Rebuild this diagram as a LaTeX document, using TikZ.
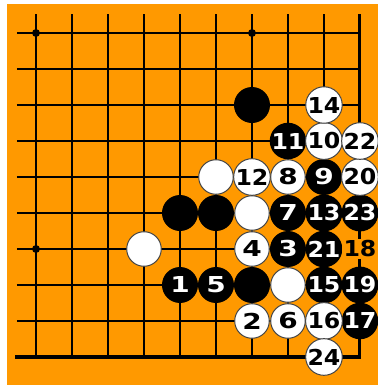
\documentclass[tikz,border=0pt]{standalone}
\usepackage{fontspec}
\usepackage{graphicx}
\newfontfamily\stonefont{DejaVu Sans}
\definecolor{boardorange}{RGB}{255,153,0}
\definecolor{stonegrey}{RGB}{70,70,70}
\newcommand{\movenum}[1]{\ifnum#1<10 \scalebox{1.3}[1.02]{#1}\else\scalebox{1.1}[1.02]{#1}\fi}
\tikzset{
  gridline/.style={line width=1.5pt, black},
  edgeline/.style={line width=2.4pt, black, line join=miter},
  numfont/.style={font=\stonefont\bfseries\fontsize{17}{17}\selectfont},
  bstone/.style={circle, fill=black, text=white, minimum size=1cm, inner sep=0pt, numfont},
  wstone/.style={circle, fill=white, draw=stonegrey, line width=0.8pt, text=black, minimum size=0.96cm, inner sep=0pt, numfont},
  movelabel/.style={fill=boardorange, inner sep=1pt, text=black, numfont}
}
\begin{document}
\begin{tikzpicture}
  \useasboundingbox (0,-0.778) rectangle (10.5,9.917);
  \fill[boardorange] (0.194,-0.778) rectangle (10.5,9.806);
  % grid
  \foreach \c in {1,...,9}
    \draw[gridline] (\c,0) -- (\c,9.53);
  \foreach \r in {1,...,9}
    \draw[gridline] (0.47,\r) -- (10,\r);
  \draw[edgeline] (0.42,0) -- (10,0) -- (10,9.53);
  % star points
  \foreach \c/\r in {1/9, 7/9, 1/3}
    \fill (\c,\r) circle (0.11);
  % stones without numbers
  \foreach \c/\r [count=\i] in {7/7, 5/4, 6/4, 7/2}
    \node[bstone] (b\i) at (\c,\r) {};
  \foreach \c/\r [count=\i] in {6/5, 7/4, 4/3, 8/2}
    \node[wstone] (w\i) at (\c,\r) {};
  % numbered moves
  \foreach \c/\r/\n in {5/2/1, 8/3/3, 6/2/5, 8/4/7, 9/5/9, 8/6/11, 9/4/13, 9/2/15, 10/1/17, 10/2/19, 9/3/21, 10/4/23}
    \node[bstone] (m\n) at (\c,\r) {\movenum{\n}};
  \foreach \c/\r/\n in {7/1/2, 7/3/4, 8/1/6, 8/5/8, 9/6/10, 7/5/12, 9/7/14, 9/1/16, 10/5/20, 10/6/22, 9/0/24}
    \node[wstone] (m\n) at (\c,\r) {\movenum{\n}};
  \node[movelabel] (m18) at (10,3) {\movenum{18}};
\end{tikzpicture}
\end{document}
